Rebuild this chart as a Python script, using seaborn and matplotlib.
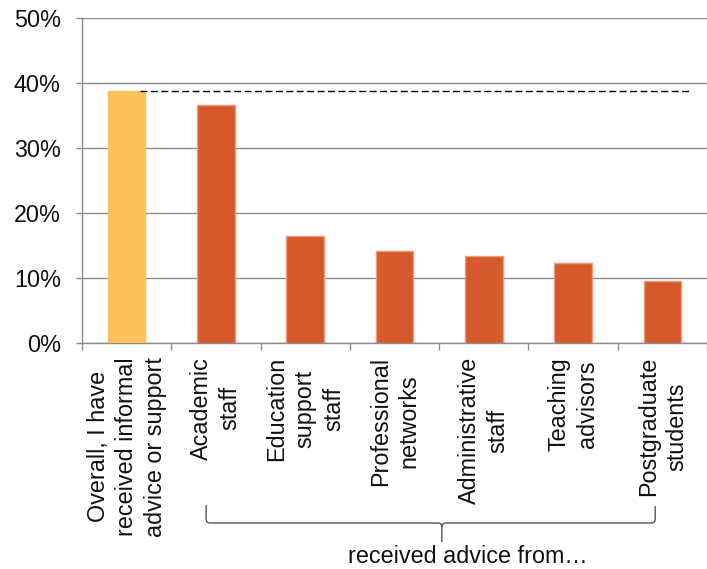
import matplotlib
matplotlib.use("Agg")
import matplotlib.pyplot as plt
import matplotlib.transforms as mtransforms
from matplotlib.path import Path
from matplotlib.patches import PathPatch
from matplotlib.ticker import FuncFormatter, FixedLocator
import seaborn as sns

# data
categories = [
    "Overall, I have\nreceived informal\nadvice or support",
    "Academic\nstaff",
    "Education\nsupport\nstaff",
    "Professional\nnetworks",
    "Administrative\nstaff",
    "Teaching\nadvisors",
    "Postgraduate\nstudents",
]
values = [38.8, 36.6, 16.4, 14.2, 13.4, 12.3, 9.6]
bar_colors = ["#FDC35B"] + ["#D5592B"] * 6
edge_colors = ["#FDC35B"] + ["#EE9A7A"] * 6
group_label = "received advice from\u2026"

sns.set_theme(style="white")
plt.rcParams["font.family"] = ["Liberation Sans", "DejaVu Sans"]

grey = "#8C8C8C"
fs = 16.8

fig = plt.figure(figsize=(7.07, 5.69), dpi=100)
ax = fig.add_axes([82 / 707, (569 - 343) / 569, 1 - 82 / 707, 325.3 / 569])

sns.barplot(x=categories, y=values, hue=categories, palette=bar_colors,
            saturation=1, width=0.42, legend=False, ax=ax, zorder=3)
for patch, ec in zip(ax.patches, edge_colors):
    patch.set_edgecolor(ec)
    patch.set_linewidth(1.0)

# reference line at the overall value
ax.hlines(values[0], 0.15, 6.33, colors="black", linestyles=(0, (5, 2.5)),
          linewidth=1.0, zorder=4)

ax.set_ylim(0, 50)
ax.set_xlim(-0.5, (707 - 82) / 90 - 0.5)
ax.yaxis.set_major_locator(FixedLocator([0, 10, 20, 30, 40, 50]))
ax.yaxis.set_major_formatter(FuncFormatter(lambda v, p: "{:.0f}%".format(v)))
ax.yaxis.grid(True, color=grey, linewidth=1.0, zorder=0)
ax.set_axisbelow(True)

ax.set_xticks(range(len(categories)))
ax.set_xticklabels(categories, rotation=90, ha="center", va="top",
                   multialignment="center", linespacing=1.3)
ax.set_xticks([i - 0.5 for i in range(len(categories) + 1)], minor=True)
ax.tick_params(axis="x", which="major", length=0, pad=10, labelsize=fs,
               labelcolor="#111111")
ax.tick_params(axis="x", which="minor", length=5, width=1, color=grey,
               direction="out", bottom=True)
ax.tick_params(axis="y", length=4.3, width=1, color=grey, pad=11,
               labelsize=fs, labelcolor="#111111", left=True)
ax.set_xlabel("")
ax.set_ylabel("")

for side in ["top", "right"]:
    ax.spines[side].set_visible(False)
for side in ["left", "bottom"]:
    ax.spines[side].set_color(grey)
    ax.spines[side].set_linewidth(1.0)

# curly bracket grouping the "received advice from" bars
trans = mtransforms.blended_transform_factory(ax.transData, fig.transFigure)
px = 1 / 90.0
fy = lambda p: (569 - p) / 569
xl, xr, xc = 0.89, 5.92, 3.53
verts = [
    (xl, fy(505)), (xl, fy(519)), (xl, fy(523)), (xl + 4 * px, fy(523)),
    (xc - 4 * px, fy(523)), (xc, fy(523)), (xc, fy(527)), (xc, fy(542)),
    (xc, fy(527)), (xc, fy(523)), (xc + 4 * px, fy(523)),
    (xr - 4 * px, fy(523)), (xr, fy(523)), (xr, fy(519)), (xr, fy(506)),
]
codes = [
    Path.MOVETO, Path.LINETO, Path.CURVE3, Path.CURVE3,
    Path.LINETO, Path.CURVE3, Path.CURVE3, Path.LINETO,
    Path.MOVETO, Path.CURVE3, Path.CURVE3,
    Path.LINETO, Path.CURVE3, Path.CURVE3, Path.LINETO,
]
brace = PathPatch(Path(verts, codes), transform=trans, facecolor="none",
                  edgecolor="#555555", linewidth=1.0, clip_on=False)
fig.add_artist(brace)

fig.text(3.82, fy(563), group_label, transform=trans, ha="center",
         va="baseline", fontsize=fs, color="#111111")

fig.savefig("out.png", dpi=100)
